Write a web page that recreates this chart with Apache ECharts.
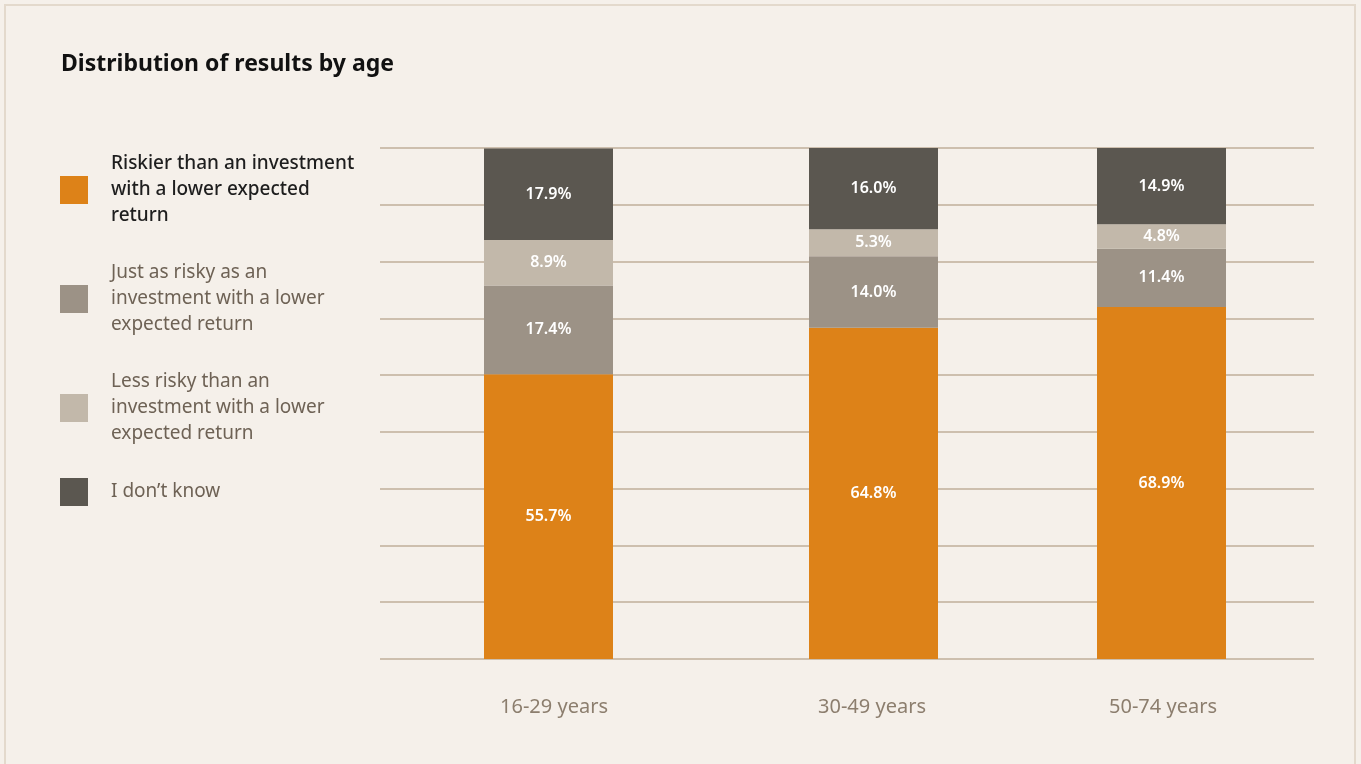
<!DOCTYPE html>
<html>
<head>
<meta charset="utf-8">
<script src="https://cdn.jsdelivr.net/npm/echarts@6/dist/echarts.min.js"></script>
<style>
  html, body { margin: 0; padding: 0; background: #f5f0ea; }
  #chart { width: 1361px; height: 764px; }
</style>
</head>
<body>
<div id="chart"></div>
<script>
// Survey answers by age group (percent of respondents)
const categories = ['16-29 years', '30-49 years', '50-74 years'];
const seriesNames = [
  'Riskier than an investment\nwith a lower expected\nreturn',
  'Just as risky as an\ninvestment with a lower\nexpected return',
  'Less risky than an\ninvestment with a lower\nexpected return',
  'I don\u2019t know'
];
const riskier   = [55.7, 64.8, 68.9];
const justAs    = [17.4, 14.0, 11.4];
const lessRisky = [8.9, 5.3, 4.8];
const dontKnow  = [17.9, 16.0, 14.9];

const valuesBySeries = [riskier, justAs, lessRisky, dontKnow];
const colors = ['#dd8218', '#9c9286', '#c2b8aa', '#5b5750'];

const FONT = '"Noto Sans", sans-serif';
const PLOT_TOP = 148, PLOT_H = 511;
// horizontal placement of each age group's column
const barLefts = [484, 809, 1097];
const BAR_W = 129;
// small horizontal nudge of each category label (px)
const labelNudge = [11, -3, 3];

const grids = [{ left: 380, width: 934, top: PLOT_TOP, height: PLOT_H }];
const xAxes = [{ gridIndex: 0, type: 'value', show: false }];
const yAxes = [{
  gridIndex: 0, type: 'value', min: 0, max: 100, interval: 100 / 9,
  axisLine: { show: false }, axisTick: { show: false }, axisLabel: { show: false },
  splitLine: { lineStyle: { color: '#cdbfae', width: 2 } }
}];

categories.forEach((cat, i) => {
  grids.push({ left: barLefts[i], width: BAR_W, top: PLOT_TOP, height: PLOT_H });
  const n = labelNudge[i];
  xAxes.push({
    gridIndex: i + 1, type: 'category', data: [cat],
    axisLine: { show: false }, axisTick: { show: false },
    axisLabel: {
      color: '#8c7e6e', fontSize: 20, fontFamily: FONT, margin: 38,
      padding: n >= 0 ? [0, 0, 0, n] : [0, -n, 0, 0]
    }
  });
  yAxes.push({ gridIndex: i + 1, type: 'value', min: 0, max: 100, show: false });
});

const series = [];
categories.forEach((cat, i) => {
  valuesBySeries.forEach((vals, s) => {
    series.push({
      name: seriesNames[s],
      type: 'bar',
      stack: 'group' + i,
      xAxisIndex: i + 1,
      yAxisIndex: i + 1,
      barWidth: '100%',
      itemStyle: { color: colors[s] },
      label: {
        show: true, position: 'inside',
        formatter: p => p.value.toFixed(1) + '%',
        color: '#ffffff', fontSize: 16, fontWeight: 600, fontFamily: FONT
      },
      emphasis: { disabled: true },
      data: [vals[i]]
    });
  });
});

const chart = echarts.init(document.getElementById('chart'));
chart.setOption({
  backgroundColor: '#f5f0ea',
  animation: false,
  graphic: [{
    type: 'rect', z: -10,
    shape: { x: 5, y: 5, width: 1350, height: 800 },
    style: { fill: '#f5f0ea', stroke: '#e3d9cc', lineWidth: 2 }
  }],
  title: {
    text: 'Distribution of results by age',
    left: 61, top: 53, padding: 0,
    textStyle: { color: '#111111', fontSize: 23, fontWeight: 'bold', fontFamily: FONT }
  },
  legend: {
    orient: 'vertical', left: 60, top: 151, padding: 0,
    itemWidth: 28, itemHeight: 28, itemGap: 31, icon: 'rect',
    selectedMode: false,
    data: seriesNames,
    formatter: name => name === seriesNames[0] ? '{first|' + name.split('\n').join('}\n{first|') + '}' : name,
    textStyle: {
      color: '#6e6255', fontSize: 19, lineHeight: 26, fontFamily: FONT,
      padding: [0, 0, 0, 18],
      rich: {
        first: { color: '#1e1e1e', fontSize: 19, lineHeight: 26, fontWeight: 500, fontFamily: FONT }
      }
    }
  },
  grid: grids,
  xAxis: xAxes,
  yAxis: yAxes,
  series: series
});
</script>
</body>
</html>
